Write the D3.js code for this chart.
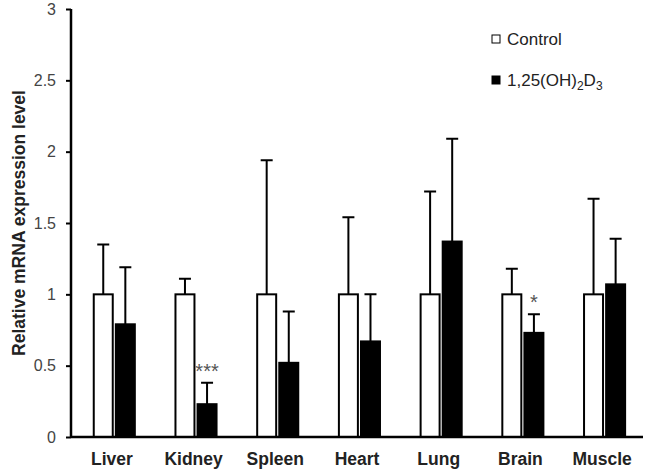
<!DOCTYPE html>
<html>
<head>
<meta charset="utf-8">
<script src="https://cdnjs.cloudflare.com/ajax/libs/d3/7.8.5/d3.min.js"></script>
<style>
  body { margin: 0; background: #fff; }
  svg { display: block; font-family: "Liberation Sans", Arial, sans-serif; }
</style>
</head>
<body>
<div id="chart-div"></div>
<script>
const tissues = ['Liver', 'Kidney', 'Spleen', 'Heart', 'Lung', 'Brain', 'Muscle']
const seriesNames = ['Control', '1,25(OH)2D3']
const controlMean = [1, 1, 1, 1, 1, 1, 1]
const controlTop = [1.35, 1.11, 1.94, 1.54, 1.72, 1.18, 1.67]
const vdMean = [0.79, 0.23, 0.52, 0.67, 1.37, 0.73, 1.07]
const vdTop = [1.19, 0.38, 0.88, 1.00, 2.09, 0.86, 1.39]
const stars = ['', '***', '', '', '', '*', '']
const yTicks = [0, 0.5, 1, 1.5, 2, 2.5, 3]

const width = 645
const height = 471
const margin = { top: 9, right: 2, bottom: 34, left: 71 }
const innerWidth = width - margin.left - margin.right
const innerHeight = height - margin.top - margin.bottom

const data = tissues.map((t, i) => ({
  tissue: t,
  bars: [
    { s: seriesNames[0], mean: controlMean[i], top: controlTop[i], star: '' },
    { s: seriesNames[1], mean: vdMean[i], top: vdTop[i], star: stars[i] }
  ]
}))

const svg = d3.select('#chart-div').append('svg')
  .attr('width', width)
  .attr('height', height)

const g = svg.append('g')
  .attr('transform', `translate(${margin.left},${margin.top})`)

const x0 = d3.scaleBand()
  .domain(tissues)
  .range([0, innerWidth])

const x1 = d3.scaleBand()
  .domain(seriesNames)
  .range([0, x0.bandwidth()])
  .paddingInner(0.14)
  .paddingOuter(0.92)
  .align(0.56)

const yScale = d3.scaleLinear()
  .domain([0, 3])
  .range([innerHeight, 0])

const color = d3.scaleOrdinal()
  .domain(seriesNames)
  .range(['#fff', '#000'])

const groups = g.selectAll('.grp').data(data)
  .enter().append('g')
  .attr('class', 'grp')
  .attr('transform', d => `translate(${x0(d.tissue)},0)`)

// upper error bars
groups.selectAll('.err').data(d => d.bars)
  .enter().append('path')
  .attr('class', 'err')
  .attr('fill', 'none')
  .attr('stroke', '#000')
  .attr('stroke-width', 2)
  .attr('d', d => {
    const cx = x1(d.s) + x1.bandwidth() / 2
    const y1 = yScale(d.mean)
    const y2 = yScale(d.top)
    return `M${cx},${y1}V${y2}M${cx - 6},${y2}H${cx + 6}`
  })

groups.selectAll('rect').data(d => d.bars)
  .enter().append('rect')
  .attr('x', d => x1(d.s))
  .attr('y', d => yScale(d.mean))
  .attr('width', x1.bandwidth())
  .attr('height', d => innerHeight - yScale(d.mean))
  .attr('fill', d => color(d.s))
  .attr('stroke', '#000')
  .attr('stroke-width', 2)

groups.selectAll('.star').data(d => d.bars.filter(b => b.star))
  .enter().append('text')
  .attr('class', 'star')
  .attr('x', d => x1(d.s) + x1.bandwidth() / 2)
  .attr('y', d => yScale(d.top) - 5)
  .attr('text-anchor', 'middle')
  .attr('font-size', '20px')
  .attr('fill', '#555')
  .text(d => d.star)

// axes
const yAxis = d3.axisLeft(yScale)
  .tickValues(yTicks)
  .tickFormat(d3.format('~g'))
  .tickSize(5)
  .tickPadding(10)

const yAxisG = g.append('g').call(yAxis)
yAxisG.select('.domain').attr('stroke-width', 2.5).attr('d', `M0,0V${innerHeight}`)
yAxisG.selectAll('.tick line').attr('stroke-width', 2)
yAxisG.selectAll('.tick text')
  .attr('font-size', '16px')
  .attr('fill', '#444')
  .attr('font-family', '"Liberation Sans", Arial, sans-serif')

const xAxis = d3.axisBottom(x0).tickSize(0).tickPadding(16)
const xAxisG = g.append('g')
  .attr('transform', `translate(0,${innerHeight})`)
  .call(xAxis)
xAxisG.select('.domain').attr('stroke-width', 2.5).attr('d', `M0,0H${innerWidth}`)
xAxisG.selectAll('.tick text')
  .attr('font-size', '17.5px')
  .attr('font-weight', 'bold')
  .attr('fill', '#222')
  .attr('font-family', '"Liberation Sans", Arial, sans-serif')

g.append('text')
  .attr('transform', 'rotate(-90)')
  .attr('x', -214)
  .attr('y', -46)
  .attr('text-anchor', 'middle')
  .attr('font-size', '17.5px')
  .attr('font-weight', 'bold')
  .attr('fill', '#222')
  .text('Relative mRNA expression level')

// legend
const legend = svg.append('g').attr('transform', 'translate(492,39)')
seriesNames.forEach((s, i) => {
  const row = legend.append('g').attr('transform', `translate(0,${i * 41})`)
  row.append('rect')
    .attr('x', 0).attr('y', -4)
    .attr('width', 8).attr('height', 8)
    .attr('fill', color(s))
    .attr('stroke', '#000')
    .attr('stroke-width', 1)
  const t = row.append('text')
    .attr('x', 15).attr('y', 6)
    .attr('font-size', '17px')
    .attr('fill', '#222')
  if (i === 0) {
    t.text(s)
  } else {
    t.append('tspan').text('1,25(OH)')
    t.append('tspan').attr('font-size', '12px').attr('dy', 4).text('2')
    t.append('tspan').attr('dy', -4).text('D')
    t.append('tspan').attr('font-size', '12px').attr('dy', 4).text('3')
  }
})
</script>
</body>
</html>
